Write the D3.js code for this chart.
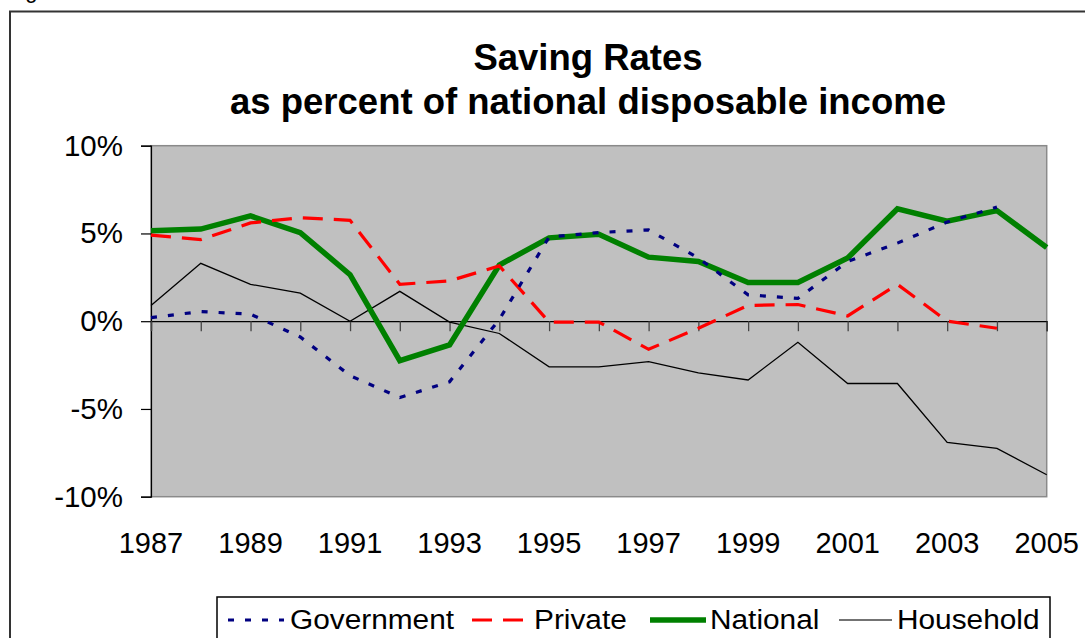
<!DOCTYPE html>
<html>
<head>
<meta charset="utf-8">
<script src="https://cdn.jsdelivr.net/npm/d3@7"></script>
<style>
  html, body { margin: 0; padding: 0; background: #fff; }
  svg { display: block; }
  text { font-family: Arial, "Liberation Sans", sans-serif; }
</style>
</head>
<body>
<svg id="chart" width="1085" height="638"></svg>
<script>
// Saving rates by sector, % of national disposable income
const years = [1987, 1988, 1989, 1990, 1991, 1992, 1993, 1994, 1995, 1996,
               1997, 1998, 1999, 2000, 2001, 2002, 2003, 2004, 2005];
const government = [0.2, 0.55, 0.4, -0.9, -3.1, -4.35, -3.45, 0.1, 4.8, 5.05,
                    5.2, 3.6, 1.5, 1.3, 3.4, 4.45, 5.65, 6.5, null];
const privateSaving = [4.9, 4.65, 5.6, 5.9, 5.75, 2.1, 2.3, 3.15, -0.05, -0.05,
                       -1.6, -0.4, 0.9, 0.95, 0.3, 2.1, 0.0, -0.4, null];
const national = [5.15, 5.25, 6.0, 5.05, 2.65, -2.25, -1.35, 3.2, 4.75, 4.95,
                  3.65, 3.4, 2.2, 2.2, 3.6, 6.4, 5.7, 6.3, 4.2];
const household = [0.9, 3.3, 2.1, 1.6, 0.0, 1.7, -0.05, -0.7, -2.6, -2.6,
                   -2.3, -2.95, -3.35, -1.2, -3.55, -3.55, -6.9, -7.25, -8.75];
const yTicks = [-10, -5, 0, 5, 10];
const yearLabels = [1987, 1989, 1991, 1993, 1995, 1997, 1999, 2001, 2003, 2005];
const seriesNames = ["Government", "Private", "National", "Household"];

const svg = d3.select("#chart");

const plot = { left: 151, right: 1046.7, top: 145.7, bottom: 496.7 };
const x = d3.scaleLinear().domain([1987, 2005]).range([plot.left, plot.right]);
const y = d3.scaleLinear().domain([-10, 10]).range([plot.bottom, plot.top]);

// outer frame (runs off the right and bottom edges)
svg.append("path")
  .attr("d", "M10,700 L10,11.5 L1100,11.5")
  .attr("fill", "none").attr("stroke", "#333").attr("stroke-width", 2);

// caption above the frame, mostly cut off by the top edge
svg.append("text").attr("x", 7).attr("y", -2)
  .attr("font-size", 22).attr("fill", "#000").text("Figure");

// title
const title = svg.append("text").attr("text-anchor", "middle")
  .attr("font-weight", "bold").attr("font-size", 36.5).attr("fill", "#000");
title.append("tspan").attr("x", 588).attr("y", 70).text("Saving Rates");
title.append("tspan").attr("x", 588).attr("y", 114).text("as percent of national disposable income");

// plot area
svg.append("rect")
  .attr("x", plot.left).attr("y", plot.top)
  .attr("width", plot.right - plot.left).attr("height", plot.bottom - plot.top)
  .attr("fill", "#c0c0c0").attr("stroke", "#8a8a8a").attr("stroke-width", 1.5);

// y axis
const yAxis = svg.append("g")
  .attr("transform", `translate(${plot.left},0)`)
  .call(d3.axisLeft(y).tickValues(yTicks).tickSize(10).tickPadding(18)
        .tickFormat(d => d + "%"));
yAxis.select(".domain").attr("stroke", "#000").attr("stroke-width", 1.2);
yAxis.selectAll(".tick line").attr("stroke", "#000").attr("stroke-width", 1.2);
yAxis.selectAll(".tick text").attr("font-size", 29.5).attr("fill", "#000")
  .attr("font-family", 'Arial, "Liberation Sans", sans-serif');

// category axis along the zero line
const xAxis = svg.append("g")
  .attr("transform", `translate(0,${y(0)})`)
  .call(d3.axisBottom(x).tickValues(years).tickSize(10).tickFormat(""));
xAxis.select(".domain").attr("stroke", "#000").attr("stroke-width", 1.2);
xAxis.selectAll(".tick line").attr("stroke", "#444").attr("stroke-width", 1.3);

// year labels below the plot
svg.append("g").selectAll("text").data(yearLabels).join("text")
  .attr("x", d => x(d)).attr("y", 553)
  .attr("text-anchor", "middle").attr("font-size", 29).attr("fill", "#000")
  .text(d => d);

const line = d3.line()
  .defined(d => d.v !== null)
  .x(d => x(d.year)).y(d => y(d.v));
const pts = arr => years.map((yr, i) => ({ year: yr, v: arr[i] }));

const styles = {
  Government: { color: "#000080", width: 3.2, dash: "6,11" },
  Private:    { color: "#ff0000", width: 3.2, dash: "20,11" },
  National:   { color: "#008000", width: 5.5, dash: null },
  Household:  { color: "#000000", width: 1.3, dash: null }
};
const seriesData = {
  Government: government, Private: privateSaving,
  National: national, Household: household
};

["Household", "National", "Private", "Government"].forEach(name => {
  const s = styles[name];
  svg.append("path")
    .datum(pts(seriesData[name]))
    .attr("fill", "none")
    .attr("stroke", s.color)
    .attr("stroke-width", s.width)
    .attr("stroke-dasharray", s.dash)
    .attr("stroke-linejoin", "miter")
    .attr("d", line);
});

// legend
const legend = svg.append("g");
legend.append("rect")
  .attr("x", 217).attr("y", 597).attr("width", 833).attr("height", 80)
  .attr("fill", "#fff").attr("stroke", "#000").attr("stroke-width", 1.5);
const legendItems = [
  { name: "Government", x1: 228, x2: 284, tx: 290 },
  { name: "Private",    x1: 472, x2: 524, tx: 534 },
  { name: "National",   x1: 650, x2: 706, tx: 710 },
  { name: "Household",  x1: 839, x2: 892, tx: 897 }
];
legendItems.forEach(it => {
  const s = styles[it.name];
  legend.append("line")
    .attr("x1", it.x1).attr("x2", it.x2).attr("y1", 620).attr("y2", 620)
    .attr("stroke", it.name === "Household" ? "#444" : s.color)
    .attr("stroke-width", s.width)
    .attr("stroke-dasharray", s.dash);
  // legend type is set slightly wide
  legend.append("text")
    .attr("transform", `translate(${it.tx},629) scale(1.065,1)`)
    .attr("font-size", 28).attr("fill", "#000")
    .text(it.name);
});
</script>
</body>
</html>
